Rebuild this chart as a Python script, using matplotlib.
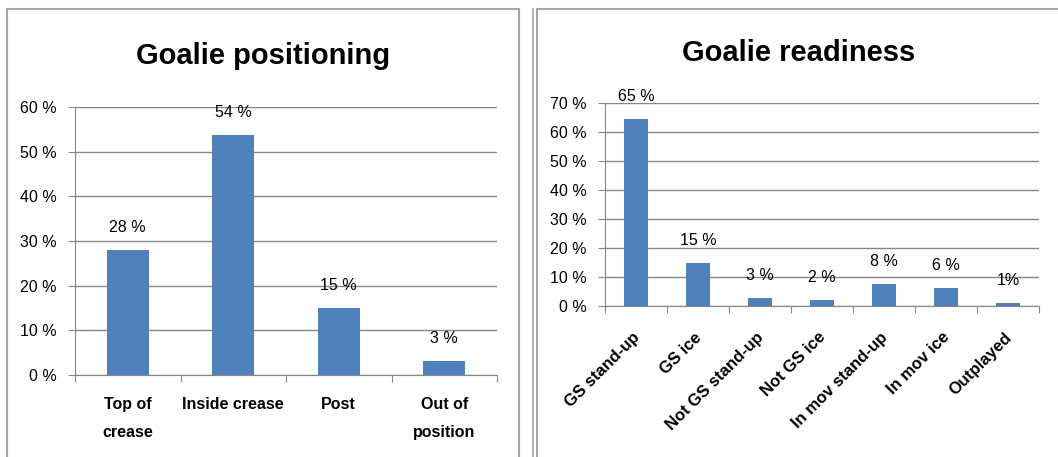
import matplotlib
matplotlib.use("Agg")
import matplotlib.pyplot as plt
from matplotlib.patches import Rectangle
from matplotlib.lines import Line2D

# data
pos_labels = ["Top of\ncrease", "Inside crease", "Post", "Out of\nposition"]
pos_values = [28, 53.7, 15, 3.1]
pos_text = ["28 %", "54 %", "15 %", "3 %"]

ready_labels = ["GS stand-up", "GS ice", "Not GS stand-up", "Not GS ice",
                "In mov stand-up", "In mov ice", "Outplayed"]
ready_values = [64.5, 14.8, 2.8, 2.1, 7.6, 6.2, 1.0]
ready_text = ["65 %", "15 %", "3 %", "2 %", "8 %", "6 %", "1%"]

plt.rcParams['font.family'] = ['Liberation Sans', 'DejaVu Sans']
bar_color = "#4F81BD"
grid_color = "#868686"
W, H = 1058, 457

fig = plt.figure(figsize=(W / 100, H / 100), dpi=100)

# panel borders
fig.patches.append(Rectangle((7 / W, -0.05), 512 / W, (H - 9) / H + 0.05,
                             transform=fig.transFigure, fill=False,
                             edgecolor="#A6A6A6", lw=1.5))
fig.patches.append(Rectangle((537 / W, -0.05), 0.5, (H - 9) / H + 0.05,
                             transform=fig.transFigure, fill=False,
                             edgecolor="#A6A6A6", lw=1.5))
fig.lines.append(Line2D([532.5 / W, 532.5 / W], [0, (H - 9) / H],
                        transform=fig.transFigure, color="#A6A6A6", lw=1.2))


def bar_panel(rect, labels, values, texts, ymax, rotate):
    ax = fig.add_axes(rect)
    n = len(values)
    x = list(range(n))
    ax.bar(x, values, width=0.4, color=bar_color, zorder=3)
    ax.set_xlim(-0.5, n - 0.5)
    ax.set_ylim(0, ymax)
    ax.set_yticks(range(0, ymax + 1, 10))
    ax.set_yticklabels([f"{v} %" for v in range(0, ymax + 1, 10)], fontsize=11.5)
    ax.yaxis.grid(True, color=grid_color, lw=1, zorder=0)
    for s in ["top", "right"]:
        ax.spines[s].set_visible(False)
    ax.spines["left"].set_color(grid_color)
    ax.spines["bottom"].set_color(grid_color)
    ax.tick_params(axis="y", length=5, color=grid_color, pad=8)
    # ticks between categories, labels on category centres
    ax.set_xticks([i - 0.5 for i in range(n + 1)])
    ax.set_xticklabels([])
    ax.tick_params(axis="x", length=5, color=grid_color)
    for i, v in enumerate(values):
        ax.annotate(texts[i], (i, v), xytext=(0, 16), textcoords="offset points",
                    ha="center", va="center", fontsize=11.5)
        if rotate:
            ax.annotate(labels[i], (i, 0), xytext=(-3, -17), textcoords="offset points",
                        ha="right", va="top", rotation=45, rotation_mode="anchor",
                        fontsize=12, fontweight="bold")
        else:
            ax.annotate(labels[i], (i, 0), xytext=(0, -16), textcoords="offset points",
                        ha="center", va="top", fontsize=11.5, fontweight="bold",
                        linespacing=2.05)
    return ax


bar_panel([75 / W, 82 / H, 422 / W, 268 / H], pos_labels, pos_values, pos_text, 60, False)
bar_panel([605 / W, 151 / H, 434 / W, 203 / H], ready_labels, ready_values, ready_text, 70, True)

fig.text(263 / W, 1 - 56 / H, "Goalie positioning", ha="center", va="center",
         fontsize=21, fontweight="bold")
fig.text(799 / W, 1 - 53 / H, "Goalie readiness", ha="center", va="center",
         fontsize=21, fontweight="bold")

fig.savefig("out.png", dpi=100)
